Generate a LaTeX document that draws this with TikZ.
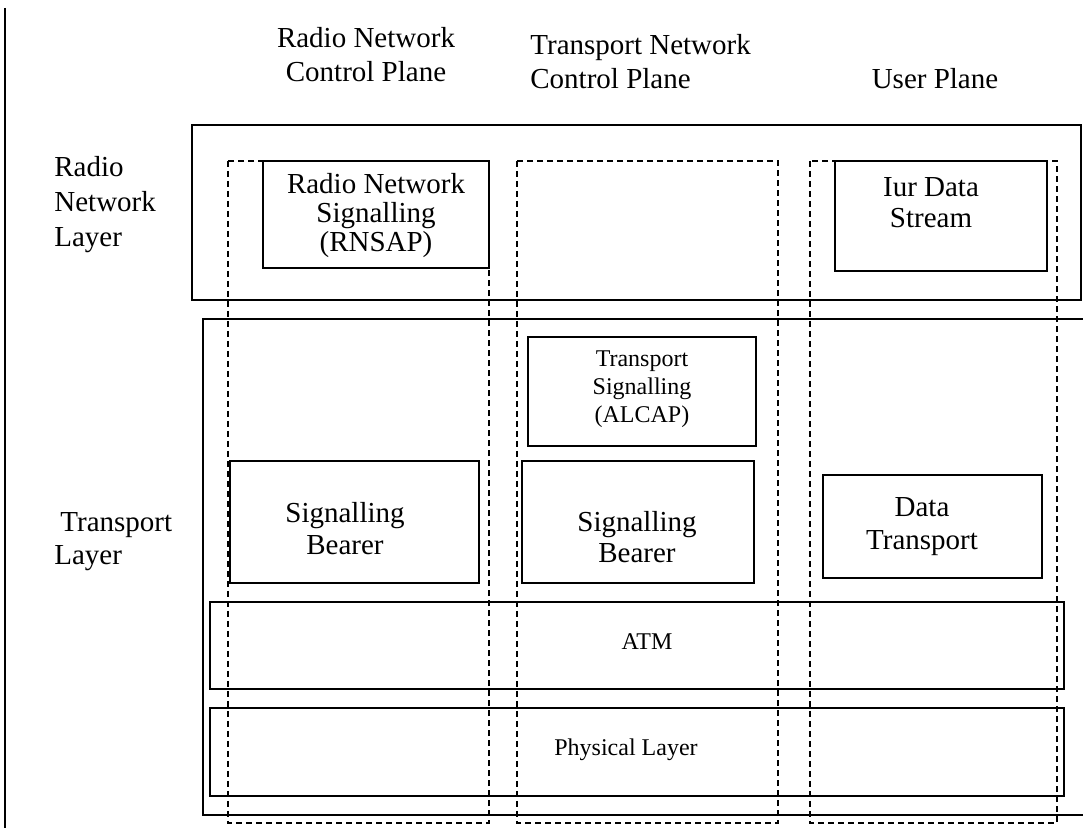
\documentclass[tikz,border=0pt]{standalone}
\usepackage{fontspec}
\setmainfont{Liberation Serif}
\tikzset{every picture/.style={line width=0.9pt}}
\tikzset{
  txt/.style={inner sep=0.75pt, anchor=base, align=center, font=\fontsize{14.5}{17}\selectfont},
  smalltxt/.style={inner sep=0.75pt, anchor=base, align=center, font=\fontsize{12}{14}\selectfont},
  plane/.style={dash pattern=on 3.2pt off 1.8pt, line width=1pt},
  layerbox/.style={line width=1.1pt}
}

\begin{document}
\begin{tikzpicture}[x=0.5pt,y=0.5pt,yscale=-1,xscale=1]
\useasboundingbox (0,0) rectangle (1083,828);

%Straight Lines
\draw [line width=1.1pt]   (5,8) -- (5,828) ;
%Shape: Rectangle (radio network layer)
\draw [layerbox]   (192,125) rectangle (1081,300) ;
%Straight Lines (transport layer, open to the right)
\draw [layerbox]   (1083,319) -- (203,319) -- (203,815) -- (1083,815) ;

%Shape: Rectangle (planes)
\draw [plane]   (228,161) rectangle (489,823) ;
\draw [plane]   (517,161) rectangle (778,823) ;
\draw [plane]   (810,161) rectangle (1057,823) ;

%Shape: Rectangle
\draw    (263,161) rectangle (489,268) ;
%Shape: Rectangle
\draw    (835,161) rectangle (1047,271) ;
%Shape: Rectangle
\draw    (528,337) rectangle (756,446) ;
%Shape: Rectangle
\draw    (230,461) rectangle (479,583) ;
%Shape: Rectangle
\draw    (522,461) rectangle (754,583) ;
%Shape: Rectangle
\draw    (823,475) rectangle (1042,578) ;
%Shape: Rectangle
\draw    (210,602) rectangle (1064,689) ;
%Shape: Rectangle
\draw    (210,708) rectangle (1064,796) ;

% Text Node
\node (rncp) [txt] at (366,82) {Radio Network\\Control Plane};
% Text Node
\node (tncp) [txt, anchor=base west, align=left] at (528,89) {Transport Network\\Control Plane};
% Text Node
\node (up) [txt] at (935,89) {User Plane};
% Text Node
\node (rnl) [txt, anchor=base west, align=left, font=\fontsize{14.5}{17.5}\selectfont] at (52,247) {Radio\\Network\\Layer};
% Text Node
\node (tl) [txt, anchor=base west, align=left, font=\fontsize{14.5}{16.5}\selectfont] at (52,565) {\hspace{3pt}Transport\\Layer};
% Text Node
\node (rnsap) [txt, font=\fontsize{14.5}{14.5}\selectfont] at (376,252) {Radio Network\\Signalling\\(RNSAP)};
% Text Node
\node (iur) [txt, font=\fontsize{14.5}{15.5}\selectfont] at (931,228) {Iur Data\\Stream};
% Text Node
\node (alcap) [smalltxt] at (642,423) {Transport\\Signalling\\(ALCAP)};
% Text Node
\node (sbrn) [txt, font=\fontsize{14.5}{16}\selectfont] at (345,555) {Signalling\\Bearer};
% Text Node
\node (sbtn) [txt, font=\fontsize{14.5}{15.5}\selectfont] at (637,563) {Signalling\\Bearer};
% Text Node
\node (dt) [txt, font=\fontsize{14.5}{16.5}\selectfont] at (922,550) {Data\\Transport};
% Text Node
\node (atm) [smalltxt] at (647,650) {ATM};
% Text Node
\node (phy) [smalltxt] at (626,755) {Physical Layer};

\end{tikzpicture}
\end{document}
